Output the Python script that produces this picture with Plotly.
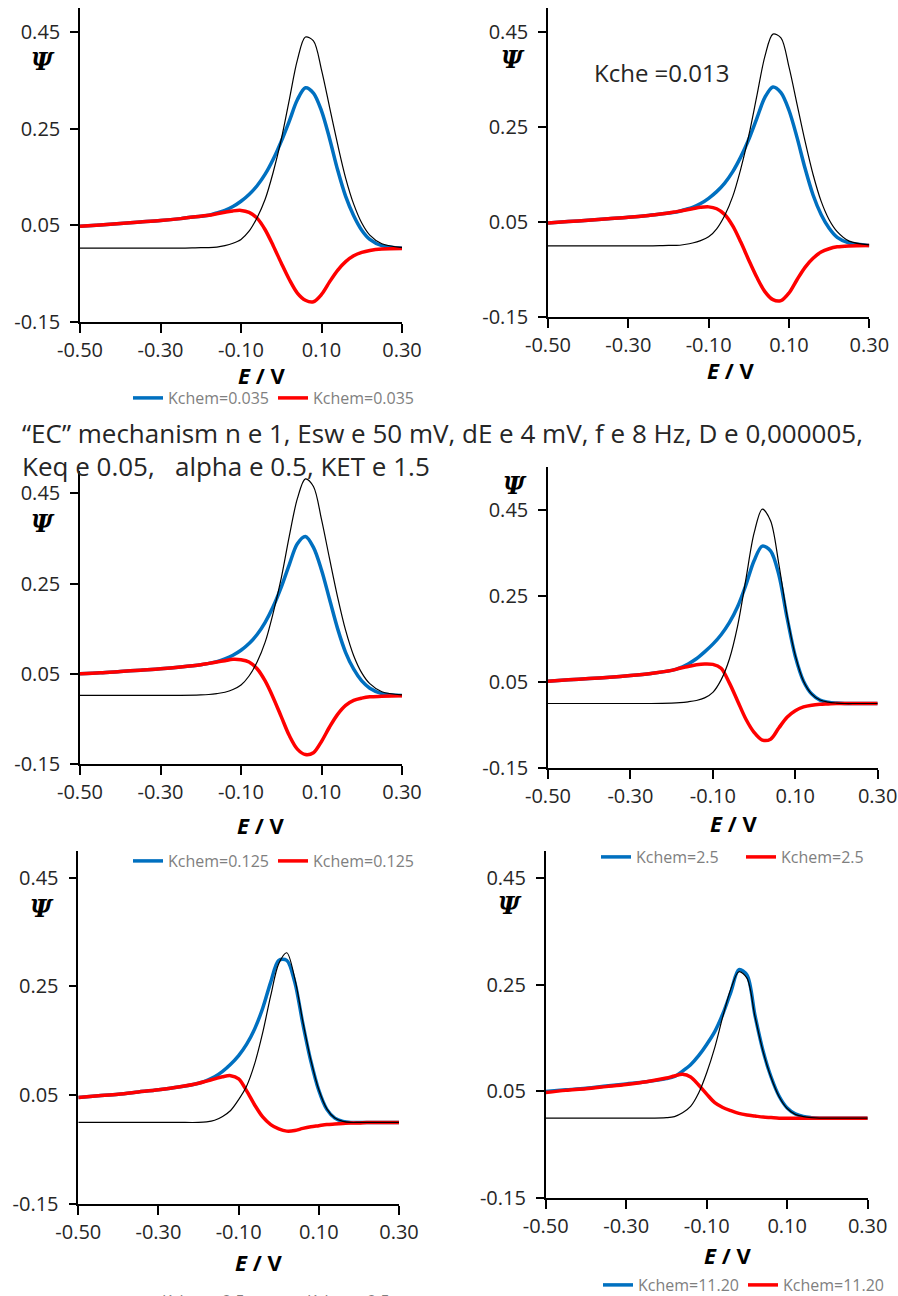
import plotly.graph_objects as go

W, H = 898, 1296

E = [-0.50, -0.45, -0.40, -0.35, -0.30, -0.25, -0.20, -0.18, -0.16, -0.14,
     -0.12, -0.10, -0.08, -0.06, -0.04, -0.02, 0.00, 0.02, 0.04, 0.06,
     0.08, 0.10, 0.12, 0.14, 0.16, 0.18, 0.20, 0.22, 0.25, 0.30]

# Panel 1 : Kchem = 0.035
p1_blue = [0.048, 0.051, 0.054, 0.057, 0.060, 0.064, 0.069, 0.071, 0.076, 0.081,
           0.089, 0.100, 0.114, 0.132, 0.156, 0.187, 0.224, 0.266, 0.310, 0.335,
           0.324, 0.287, 0.230, 0.165, 0.110, 0.070, 0.040, 0.021, 0.008, 0.003]
p1_red = [0.048, 0.051, 0.054, 0.057, 0.060, 0.064, 0.069, 0.071, 0.074, 0.077,
          0.080, 0.081, 0.077, 0.065, 0.041, 0.008, -0.028, -0.062, -0.090, -0.105,
          -0.108, -0.093, -0.067, -0.043, -0.025, -0.013, -0.006, -0.002, 0.001, 0.002]
p1_black = [0.003, 0.003, 0.003, 0.003, 0.003, 0.003, 0.004, 0.004, 0.005, 0.008,
            0.013, 0.021, 0.038, 0.066, 0.104, 0.160, 0.228, 0.310, 0.392, 0.440,
            0.432, 0.372, 0.295, 0.218, 0.148, 0.094, 0.055, 0.030, 0.012, 0.004]

# Panel 2 : Kche = 0.013
p2_blue = [0.048, 0.051, 0.054, 0.057, 0.060, 0.064, 0.069, 0.071, 0.076, 0.081,
           0.089, 0.100, 0.114, 0.132, 0.156, 0.187, 0.224, 0.268, 0.312, 0.334,
           0.322, 0.285, 0.228, 0.163, 0.107, 0.066, 0.037, 0.018, 0.006, 0.001]
p2_red = [0.048, 0.051, 0.054, 0.057, 0.060, 0.064, 0.069, 0.072, 0.075, 0.078,
          0.081, 0.082, 0.078, 0.066, 0.042, 0.008, -0.030, -0.066, -0.096, -0.113,
          -0.115, -0.099, -0.071, -0.045, -0.026, -0.013, -0.006, -0.002, 0.000, 0.001]
p2_black = [0.000, 0.000, 0.000, 0.000, 0.000, 0.000, 0.001, 0.001, 0.003, 0.006,
            0.011, 0.019, 0.036, 0.064, 0.104, 0.162, 0.232, 0.315, 0.398, 0.445,
            0.437, 0.376, 0.298, 0.220, 0.150, 0.094, 0.055, 0.030, 0.010, 0.002]

# Panel 3 : Kchem = 0.125
p3_blue = [0.050, 0.052, 0.055, 0.058, 0.061, 0.065, 0.070, 0.073, 0.077, 0.083,
           0.091, 0.102, 0.117, 0.137, 0.164, 0.199, 0.242, 0.292, 0.338, 0.354,
           0.330, 0.280, 0.215, 0.150, 0.097, 0.060, 0.034, 0.018, 0.006, 0.002]
p3_red = [0.050, 0.052, 0.055, 0.058, 0.061, 0.065, 0.070, 0.073, 0.076, 0.079,
          0.082, 0.081, 0.076, 0.061, 0.034, -0.003, -0.045, -0.087, -0.117, -0.129,
          -0.125, -0.100, -0.068, -0.040, -0.020, -0.009, -0.004, -0.001, 0.000, 0.001]
p3_black = [0.002, 0.002, 0.002, 0.002, 0.002, 0.002, 0.003, 0.004, 0.006, 0.009,
            0.015, 0.025, 0.045, 0.076, 0.120, 0.185, 0.262, 0.355, 0.438, 0.482,
            0.465, 0.392, 0.305, 0.220, 0.146, 0.090, 0.052, 0.028, 0.010, 0.003]

# Panel 4 : Kchem = 2.5
p4_blue = [0.052, 0.055, 0.058, 0.061, 0.065, 0.070, 0.077, 0.083, 0.092, 0.104,
           0.120, 0.138, 0.160, 0.188, 0.225, 0.275, 0.332, 0.366, 0.355, 0.300,
           0.200, 0.110, 0.052, 0.022, 0.008, 0.003, 0.001, 0.000, 0.000, 0.000]
p4_red = [0.052, 0.055, 0.058, 0.061, 0.065, 0.070, 0.077, 0.082, 0.086, 0.090,
          0.092, 0.091, 0.082, 0.048, 0.006, -0.036, -0.067, -0.085, -0.083, -0.057,
          -0.032, -0.017, -0.008, -0.004, -0.002, -0.001, 0.000, 0.000, 0.000, 0.000]
p4_black = [0.000, 0.000, 0.000, 0.000, 0.000, 0.000, 0.001, 0.002, 0.004, 0.007,
            0.013, 0.026, 0.055, 0.103, 0.180, 0.288, 0.396, 0.452, 0.425, 0.325,
            0.205, 0.112, 0.052, 0.022, 0.008, 0.003, 0.001, 0.000, 0.000, 0.000]

# Panel 5 : Kchem = 2.5
p5_blue = [0.046, 0.049, 0.052, 0.056, 0.060, 0.065, 0.072, 0.077, 0.084, 0.094,
           0.107, 0.123, 0.144, 0.172, 0.210, 0.258, 0.298, 0.298, 0.258, 0.182,
           0.113, 0.059, 0.024, 0.008, 0.002, 0.000, 0.000, 0.000, 0.000, 0.000]
p5_red = [0.046, 0.049, 0.052, 0.056, 0.060, 0.065, 0.072, 0.076, 0.080, 0.084,
          0.086, 0.080, 0.058, 0.032, 0.010, -0.004, -0.012, -0.016, -0.015, -0.011,
          -0.008, -0.006, -0.004, -0.003, -0.002, -0.001, -0.001, 0.000, 0.000, 0.000]
p5_black = [0.000, 0.000, 0.000, 0.000, 0.000, 0.000, 0.000, 0.001, 0.004, 0.011,
            0.022, 0.042, 0.067, 0.108, 0.165, 0.233, 0.292, 0.312, 0.265, 0.186,
            0.115, 0.060, 0.025, 0.008, 0.002, 0.000, 0.000, 0.000, 0.000, 0.000]

# Panel 6 : Kchem = 11.20
p6_blue = [0.050, 0.053, 0.056, 0.060, 0.064, 0.068, 0.074, 0.078, 0.088, 0.100,
           0.117, 0.138, 0.162, 0.195, 0.236, 0.278, 0.268, 0.192, 0.126, 0.077,
           0.041, 0.019, 0.008, 0.003, 0.001, 0.000, 0.000, 0.000, 0.000, 0.000]
p6_red = [0.048, 0.052, 0.055, 0.059, 0.063, 0.068, 0.075, 0.079, 0.082, 0.077,
          0.062, 0.045, 0.029, 0.020, 0.014, 0.009, 0.006, 0.004, 0.002, 0.001,
          0.000, 0.000, 0.000, 0.000, 0.000, 0.000, 0.000, 0.000, 0.000, 0.000]
p6_black = [0.000, 0.000, 0.000, 0.000, 0.000, 0.000, 0.001, 0.003, 0.010, 0.022,
            0.047, 0.085, 0.132, 0.190, 0.242, 0.274, 0.262, 0.190, 0.125, 0.076,
            0.040, 0.018, 0.007, 0.003, 0.001, 0.000, 0.000, 0.000, 0.000, 0.000]

legend_labels = ["Kchem=0.035", None, "Kchem=0.125", "Kchem=2.5", "Kchem=2.5", "Kchem=11.20"]
series = [
    (p1_blue, p1_red, p1_black),
    (p2_blue, p2_red, p2_black),
    (p3_blue, p3_red, p3_black),
    (p4_blue, p4_red, p4_black),
    (p5_blue, p5_red, p5_black),
    (p6_blue, p6_red, p6_black),
]

x_ticks = [-0.50, -0.30, -0.10, 0.10, 0.30]
y_ticks = [-0.15, 0.05, 0.25, 0.45]

# panel frames in pixels: x0, x1, y_bottom, y_top, y-range
frames = [
    (80, 402, 322, 8, [-0.15, 0.50]),
    (548, 869.3, 317.3, 7.9, [-0.15, 0.50]),
    (80, 402, 764, 470.7, [-0.15, 0.50]),
    (548, 877.7, 768, 467, [-0.15, 0.55]),
    (78.3, 399, 1204, 850.5, [-0.15, 0.50]),
    (545.7, 867.7, 1198.3, 851, [-0.15, 0.50]),
]
legend_ids = ["legend", None, "legend2", "legend3", "legend4", "legend5"]
legend_pos = [(128, 398), None, (128, 861), (596, 857), (122, 1301), (598, 1285)]

BLUE = "#0070C0"
RED = "#FF0000"
FONT = "Open Sans"

fig = go.Figure()
layout = dict(
    width=W, height=H,
    margin=dict(l=0, r=0, t=0, b=0, autoexpand=False),
    paper_bgcolor="white", plot_bgcolor="white",
    showlegend=True,
    font=dict(family=FONT, color="#262626"),
)

for i, ((b, r, k), (x0, x1, yb, yt, yr)) in enumerate(zip(series, frames)):
    n = "" if i == 0 else str(i + 1)
    xa, ya = "x" + n, "y" + n
    lg = legend_ids[i]
    lab = legend_labels[i]
    fig.add_trace(go.Scatter(x=E, y=b, xaxis=xa, yaxis=ya, mode="lines",
                             line=dict(color=BLUE, width=3.5, shape="spline", smoothing=0.9),
                             name=lab or "", showlegend=lg is not None,
                             legend=lg if lg else "legend"))
    fig.add_trace(go.Scatter(x=E, y=r, xaxis=xa, yaxis=ya, mode="lines",
                             line=dict(color=RED, width=3.5, shape="spline", smoothing=0.9),
                             name=lab or "", showlegend=lg is not None,
                             legend=lg if lg else "legend"))
    fig.add_trace(go.Scatter(x=E, y=k, xaxis=xa, yaxis=ya, mode="lines",
                             line=dict(color="black", width=1.2, shape="spline", smoothing=0.9),
                             showlegend=False))
    layout["xaxis" + n] = dict(
        domain=[x0 / W, x1 / W], anchor=ya, range=[-0.5, 0.3],
        tickvals=x_ticks, ticktext=[f"{v:.2f}" for v in x_ticks],
        showline=True, linecolor="black", linewidth=1.5,
        ticks="outside", ticklen=9, tickwidth=1.5, tickcolor="black",
        showgrid=False, zeroline=False, ticklabelstandoff=0,
        tickfont=dict(family=FONT, size=20, color="#262626"),
    )
    layout["yaxis" + n] = dict(
        domain=[1 - yb / H, 1 - yt / H], anchor=xa, range=yr,
        tickvals=y_ticks, ticktext=[f"{v:.2f}" for v in y_ticks],
        showline=True, linecolor="black", linewidth=1.5,
        ticks="outside", ticklen=8, tickwidth=1.5, tickcolor="black",
        showgrid=False, zeroline=False, ticklabelstandoff=6,
        tickfont=dict(family=FONT, size=20, color="#262626"),
    )
    if lg:
        lx, ly = legend_pos[i]
        layout[lg] = dict(
            orientation="h", x=lx / W, y=1 - ly / H, xanchor="left", yanchor="middle",
            bgcolor="rgba(0,0,0,0)", borderwidth=0,
            font=dict(family=FONT, size=16, color="#7f7f7f"),
            itemwidth=30, entrywidth=100, entrywidthmode="pixels",
        )

annotations = []
psi_pos = [(43, 62), (513, 60), (43, 523), (515, 485), (42, 908), (510, 905)]
ev_pos = [(261, 375), (730, 370), (260, 825), (733, 823), (258, 1262), (727, 1255)]
for (px, py) in psi_pos:
    annotations.append(dict(x=px / W, y=1 - py / H, xref="paper", yref="paper",
                            text="<b><i>Ψ</i></b>", showarrow=False,
                            font=dict(family="DejaVu Serif", size=24, color="black"),
                            xanchor="center", yanchor="middle"))
for (px, py) in ev_pos:
    annotations.append(dict(x=px / W, y=1 - py / H, xref="paper", yref="paper",
                            text="<b><i>E</i> / V</b>", showarrow=False,
                            font=dict(family=FONT, size=22, color="black"),
                            xanchor="center", yanchor="middle"))
annotations.append(dict(x=662 / W, y=1 - 72 / H, xref="paper", yref="paper",
                        text="Kche =0.013", showarrow=False,
                        font=dict(family=FONT, size=24, color="#262626"),
                        xanchor="center", yanchor="middle"))
annotations.append(dict(x=20 / W, y=1 - 433 / H, xref="paper", yref="paper",
                        text="\u201cEC\u201d mechanism n e 1, Esw e 50 mV, dE e 4 mV, f e 8 Hz, D e 0,000005,",
                        showarrow=False, font=dict(family=FONT, size=26, color="#262626"),
                        xanchor="left", yanchor="middle"))
annotations.append(dict(x=20 / W, y=1 - 466 / H, xref="paper", yref="paper",
                        text="Keq e 0.05,\u00a0\u00a0\u00a0alpha e 0.5, KET e 1.5",
                        showarrow=False, font=dict(family=FONT, size=26, color="#262626"),
                        xanchor="left", yanchor="middle"))
layout["annotations"] = annotations

fig.update_layout(**layout)
fig.write_html("out.html",
               config={"displayModeBar": False},
               post_script="document.body.style.margin='0px';document.body.style.overflow='hidden';")
